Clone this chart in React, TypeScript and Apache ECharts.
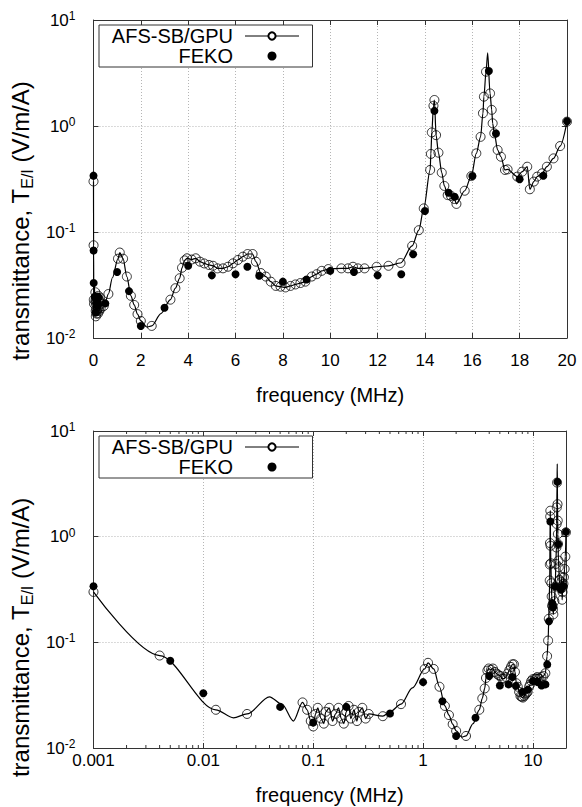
import React, { useEffect, useRef } from 'react';
import * as echarts from 'echarts';

// AFS-SB/GPU sampled points (open circles)
const afsFreq = [
  0.001, 0.004, 0.013, 0.025, 0.08, 0.088, 0.095, 0.1, 0.105, 0.11, 0.118, 0.125, 0.13, 0.14, 0.15, 0.16,
  0.17, 0.18, 0.19, 0.2, 0.21, 0.22, 0.235, 0.25, 0.26, 0.28, 0.3, 0.32, 0.43, 0.63,
  1.035, 1.11, 1.25, 1.41, 1.58, 1.72, 1.86, 2.0, 2.46, 3.25, 3.46, 3.64, 3.74, 3.85, 3.95,
  4.15, 4.32, 4.5, 4.68, 4.875, 5.05, 5.24, 5.47, 5.68, 5.89, 6.1, 6.31, 6.51, 6.72, 6.86,
  7.07, 7.28, 7.49, 7.7, 7.9, 8.11, 8.32, 8.53, 8.74, 8.95, 9.22, 9.43, 9.64, 9.92,
  10.47, 10.75, 10.96, 11.17, 11.45, 11.96, 12.46, 12.97, 13.46, 13.74, 13.95,
  14.22, 14.25, 14.29, 14.36, 14.4, 14.47, 14.57, 14.71, 14.82, 14.96, 15.1, 15.24, 15.33,
  15.68, 15.96, 16.17, 16.35, 16.45, 16.49, 16.58, 16.75, 16.82, 16.86, 16.93, 17.07, 17.21,
  17.38, 17.49, 17.9, 18.11, 18.32, 18.43, 18.6, 18.74, 18.95, 19.15, 19.43, 19.71, 20,
];
const afsVal = [
  0.30, 0.075, 0.023, 0.021, 0.027, 0.023, 0.018, 0.016, 0.021, 0.024, 0.019, 0.017, 0.022, 0.024, 0.018, 0.021,
  0.024, 0.019, 0.017, 0.022, 0.025, 0.019, 0.023, 0.018, 0.022, 0.024, 0.019, 0.021, 0.020, 0.026,
  0.056, 0.064, 0.056, 0.038, 0.025, 0.0205, 0.0168, 0.0145, 0.013, 0.023, 0.0295, 0.0366, 0.046, 0.054, 0.0565,
  0.055, 0.0565, 0.0525, 0.0505, 0.0489, 0.048, 0.0454, 0.0454, 0.047, 0.0506, 0.0545, 0.0585, 0.062, 0.062, 0.0525,
  0.041, 0.038, 0.034, 0.031, 0.0305, 0.030, 0.031, 0.032, 0.033, 0.034, 0.038, 0.040, 0.043, 0.0447,
  0.0454, 0.0454, 0.047, 0.0454, 0.0454, 0.047, 0.048, 0.051, 0.074, 0.104, 0.167,
  0.385, 0.545, 0.87, 1.55, 1.76, 0.82, 0.56, 0.363, 0.272, 0.223, 0.219, 0.205, 0.184,
  0.245, 0.337, 0.552, 0.79, 1.32, 1.89, 3.25, 2.03, 1.42, 1.06, 0.853, 0.594, 0.513,
  0.385, 0.39, 0.333, 0.371, 0.413, 0.253, 0.299, 0.333, 0.358, 0.413, 0.495, 0.647, 1.1,
];
// additional points of the AFS-SB/GPU continuous curve (between markers)
const curveExtraFreq = [0.0188, 0.04, 0.052, 0.066, 0.5, 0.8, 2.25, 2.85, 16.65];
const curveExtraVal = [0.0193, 0.0305, 0.026, 0.018, 0.022, 0.037, 0.0127, 0.017, 4.9];

// FEKO reference points (filled dots)
const fekoFreq = [
  0.001, 0.005, 0.01, 0.05, 0.1, 0.2, 0.5, 1.0, 1.5, 2.0, 3.0, 4.0, 5.0, 6.0, 6.5, 7.0, 8.0, 9.0,
  10.0, 11.0, 12.0, 13.0, 13.5, 14.0, 14.4, 15.0, 15.25, 16.0, 16.7, 17.0, 18.0, 19.0, 20.0,
];
const fekoVal = [
  0.34, 0.067, 0.033, 0.0245, 0.0174, 0.0245, 0.0212, 0.042, 0.0277, 0.013, 0.0193, 0.048, 0.039, 0.040, 0.047, 0.0387, 0.034, 0.0357,
  0.043, 0.042, 0.039, 0.040, 0.0616, 0.158, 1.39, 0.235, 0.215, 0.337, 3.3, 0.85, 0.314, 0.34, 1.11,
];

const minorTickFreq = [
  0.002, 0.003, 0.004, 0.005, 0.006, 0.007, 0.008, 0.009,
  0.02, 0.03, 0.04, 0.05, 0.06, 0.07, 0.08, 0.09,
  0.2, 0.3, 0.4, 0.5, 0.6, 0.7, 0.8, 0.9,
  2, 3, 4, 5, 6, 7, 8, 9,
];

const seriesNames = ['AFS-SB/GPU', 'FEKO'];
const xName = 'frequency (MHz)';
const yName = 'transmittance, T{sub|E/I} (V/m/A)';

const FONT = '"Liberation Sans", Arial, Helvetica, sans-serif';
const AXIS_COLOR = '#333';

export default function App() {
  const ref = useRef<HTMLDivElement>(null);

  useEffect(() => {
    document.body.style.margin = '0';
    const chart = echarts.init(ref.current as HTMLDivElement, null, { renderer: 'svg' });

    const pairs = (xs: number[], ys: number[]) => xs.map((x, i) => [x, ys[i]]);
    const afsPts = pairs(afsFreq, afsVal);
    const curvePts = afsPts.concat(pairs(curveExtraFreq, curveExtraVal)).sort((a, b) => a[0] - b[0]);
    const fekoPts = pairs(fekoFreq, fekoVal);

    const axisLine = { show: true, onZero: false, lineStyle: { color: AXIS_COLOR, width: 1 } };
    const axisTick = { show: true, inside: true, length: 5, lineStyle: { color: AXIS_COLOR, width: 1 } };
    const splitLine = { show: true, lineStyle: { color: '#b5b5b5', width: 1, type: [1, 2] as any } };

    const yLabel = {
      fontFamily: FONT,
      color: '#000',
      margin: 18,
      formatter: (v: number) => {
        const e = Math.round(Math.log10(v));
        return '{b|10}{s|' + e + '}';
      },
      rich: {
        b: { fontFamily: FONT, fontSize: 17, lineHeight: 20, color: '#000' },
        s: { fontFamily: FONT, fontSize: 12, lineHeight: 10, verticalAlign: 'top', color: '#000' },
      },
    };
    const yNameStyle = (shift: number) => ({
      fontFamily: FONT,
      fontSize: 24,
      color: '#000',
      padding: [0, shift, 0, 0],
      rich: {
        sub: { fontFamily: FONT, fontSize: 16, verticalAlign: 'bottom', lineHeight: 30, color: '#000' },
      },
    });

    const logXLabel = (v: number) => {
      const l = Math.log10(v);
      const e = Math.round(l);
      if (Math.abs(l - e) > 1e-6) return '';
      return e < 0 ? Math.pow(10, e).toFixed(-e) : String(Math.pow(10, e));
    };

    const legendBase = {
      data: seriesNames,
      left: 99,
      orient: 'vertical',
      align: 'right',
      itemWidth: 54,
      itemHeight: 9,
      itemGap: 0,
      padding: [1, 13, 1, 10],
      borderColor: AXIS_COLOR,
      borderWidth: 1,
      borderRadius: 0,
      backgroundColor: '#fff',
      selectedMode: false,
      lineStyle: { width: 1 },
      textStyle: { fontFamily: FONT, fontSize: 20, color: '#000', width: 124, lineHeight: 18, padding: [0, 7, 0, 0] },
    };

    const afsLine = (xi: number, yi: number) => ({
      name: seriesNames[0],
      type: 'line',
      xAxisIndex: xi,
      yAxisIndex: yi,
      data: curvePts,
      smooth: 0.3,
      smoothMonotone: 'x',
      symbol: 'emptyCircle',
      showSymbol: false,
      lineStyle: { color: '#000', width: 1.2 },
      itemStyle: { color: '#000' },
      z: 3,
    });
    const afsMarks = (xi: number, yi: number) => ({
      name: seriesNames[0],
      type: 'scatter',
      xAxisIndex: xi,
      yAxisIndex: yi,
      data: afsPts,
      symbol: 'circle',
      symbolSize: 9,
      itemStyle: { color: 'rgba(0,0,0,0)', borderColor: '#000', borderWidth: 0.8, opacity: 1 },
      z: 4,
    });
    const fekoMarks = (xi: number, yi: number) => ({
      name: seriesNames[1],
      type: 'scatter',
      xAxisIndex: xi,
      yAxisIndex: yi,
      data: fekoPts,
      symbol: 'circle',
      symbolSize: 8,
      itemStyle: { color: '#000', opacity: 1 },
      z: 5,
    });

    const option: any = {
      animation: false,
      backgroundColor: '#fff',
      textStyle: { fontFamily: FONT },
      grid: [
        { left: 87, top: 20, width: 480, height: 318, containLabel: false },
        { left: 87, top: 431, width: 479, height: 317, containLabel: false },
      ],
      legend: [
        { ...legendBase, top: 25 },
        { ...legendBase, top: 436 },
      ],
      xAxis: [
        {
          type: 'value', gridIndex: 0, position: 'bottom', min: 0, max: 20, interval: 2,
          axisLine, axisTick, splitLine,
          axisLabel: { fontFamily: FONT, fontSize: 17, color: '#000', margin: 14 },
          name: xName, nameLocation: 'middle', nameGap: 47,
          nameTextStyle: { fontFamily: FONT, fontSize: 20, color: '#000' },
        },
        {
          type: 'value', gridIndex: 0, position: 'top', min: 0, max: 20, interval: 2,
          axisLine, axisTick, splitLine: { show: false }, axisLabel: { show: false },
        },
        {
          type: 'log', logBase: 10, gridIndex: 1, position: 'bottom', min: 0.001, max: 20,
          axisLine, axisTick, splitLine,
          axisLabel: { fontFamily: FONT, fontSize: 17, color: '#000', margin: 4, formatter: logXLabel },
          name: xName, nameLocation: 'middle', nameGap: 37,
          nameTextStyle: { fontFamily: FONT, fontSize: 20, color: '#000' },
        },
        {
          type: 'log', logBase: 10, gridIndex: 1, position: 'top', min: 0.001, max: 20,
          axisLine, axisTick, splitLine: { show: false }, axisLabel: { show: false },
        },
      ],
      yAxis: [
        {
          type: 'log', logBase: 10, gridIndex: 0, position: 'left', min: 0.01, max: 10,
          axisLine, axisTick, splitLine, axisLabel: yLabel,
          name: yName, nameLocation: 'middle', nameGap: 52, nameTextStyle: yNameStyle(84),
        },
        {
          type: 'log', logBase: 10, gridIndex: 0, position: 'right', min: 0.01, max: 10,
          axisLine, axisTick, splitLine: { show: false }, axisLabel: { show: false },
        },
        {
          type: 'log', logBase: 10, gridIndex: 1, position: 'left', min: 0.01, max: 10,
          axisLine, axisTick, splitLine, axisLabel: yLabel,
          name: yName, nameLocation: 'middle', nameGap: 52, nameTextStyle: yNameStyle(96),
        },
        {
          type: 'log', logBase: 10, gridIndex: 1, position: 'right', min: 0.01, max: 10,
          axisLine, axisTick, splitLine: { show: false }, axisLabel: { show: false },
        },
      ],
      series: [
        afsLine(0, 0),
        afsMarks(0, 0),
        fekoMarks(0, 0),
        afsLine(2, 2),
        afsMarks(2, 2),
        fekoMarks(2, 2),
        {
          type: 'custom',
          name: 'minor ticks',
          xAxisIndex: 2,
          yAxisIndex: 2,
          silent: true,
          clip: false,
          data: minorTickFreq.map((f) => [f]),
          renderItem: (params: any, api: any) => {
            const f = api.value(0);
            const b = api.coord([f, 0.01]);
            const t = api.coord([f, 10]);
            const st = { stroke: AXIS_COLOR, lineWidth: 1 };
            return {
              type: 'group',
              children: [
                { type: 'line', shape: { x1: b[0], y1: b[1], x2: b[0], y2: b[1] - 3 }, style: st },
                { type: 'line', shape: { x1: t[0], y1: t[1], x2: t[0], y2: t[1] + 3 }, style: st },
              ],
            };
          },
          z: 2,
        },
      ],
    };

    chart.setOption(option);
    return () => chart.dispose();
  }, []);

  return <div ref={ref} style={{ width: 582, height: 807 }} />;
}
